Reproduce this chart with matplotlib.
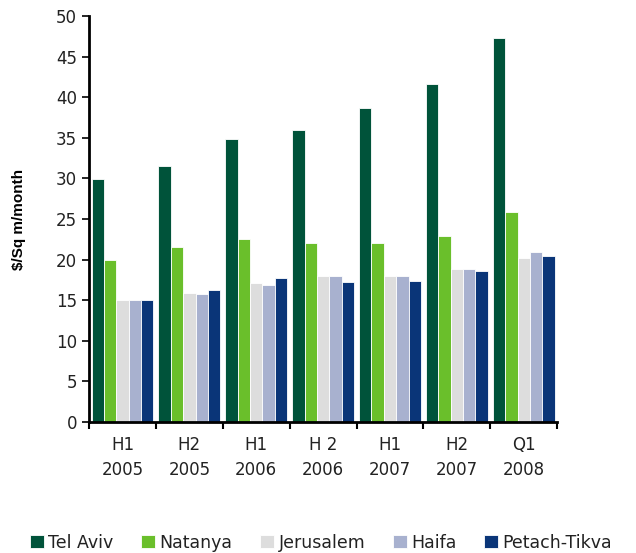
import numpy as np
import matplotlib
matplotlib.use("Agg")
import matplotlib.pyplot as plt

# Data
periods = ["H1\n2005", "H2\n2005", "H1\n2006", "H 2\n2006", "H1\n2007", "H2\n2007", "Q1\n2008"]
cities = ["Tel Aviv", "Natanya", "Jerusalem", "Haifa", "Petach-Tikva"]
tel_aviv = [29.9, 31.5, 34.9, 36.0, 38.7, 41.6, 47.3]
natanya = [20.0, 21.6, 22.5, 22.0, 22.0, 22.9, 25.9]
jerusalem = [15.0, 15.9, 17.1, 18.0, 18.0, 18.9, 20.2]
haifa = [15.0, 15.7, 16.9, 18.0, 18.0, 18.9, 20.9]
petach_tikva = [15.0, 16.2, 17.7, 17.2, 17.3, 18.6, 20.4]

colors = ["#00533A", "#6ABF2B", "#DDDDDD", "#A8B1CF", "#0A3578"]
series = [tel_aviv, natanya, jerusalem, haifa, petach_tikva]

plt.rcParams['font.family'] = ['DejaVu Sans']
plt.rcParams['text.color'] = '#222222'

fig = plt.figure(figsize=(6.36, 5.53), dpi=100)
ax = fig.add_axes([0.14, 0.237, 0.736, 0.734])

x = np.arange(len(periods))
w = 0.185
for i, (vals, c, name) in enumerate(zip(series, colors, cities)):
    ax.bar(x + (i - 2) * w, vals, width=w, color=c, edgecolor="white",
           linewidth=0.6, label=name)

ax.set_xlim(-0.5, len(periods) - 0.5)
ax.set_ylim(0, 50)
ax.set_yticks(np.arange(0, 51, 5))
ax.tick_params(axis="y", labelsize=12, length=5, width=1.2, direction="out",
               labelcolor="#222222")

ax.set_xticks(x)
ax.set_xticklabels(periods, fontsize=12, linespacing=1.5, color="#222222")
ax.tick_params(axis="x", which="major", length=0, pad=10)
ax.set_xticks(np.arange(-0.5, len(periods), 1), minor=True)
ax.tick_params(axis="x", which="minor", length=5, width=1.5, direction="out")

for s in ["top", "right"]:
    ax.spines[s].set_visible(False)
for s in ["left", "bottom"]:
    ax.spines[s].set_linewidth(2)

ax.set_ylabel("$/Sq m/month", fontsize=11, fontweight="bold",
              family="Liberation Sans", labelpad=22, color="black")

fig.legend(loc="lower center", bbox_to_anchor=(0.505, -0.026), ncol=5,
           frameon=False, fontsize=12.5, handlelength=0.8, handleheight=0.8,
           handletextpad=0.25, columnspacing=1.6)

fig.savefig("out.png", dpi=100)
